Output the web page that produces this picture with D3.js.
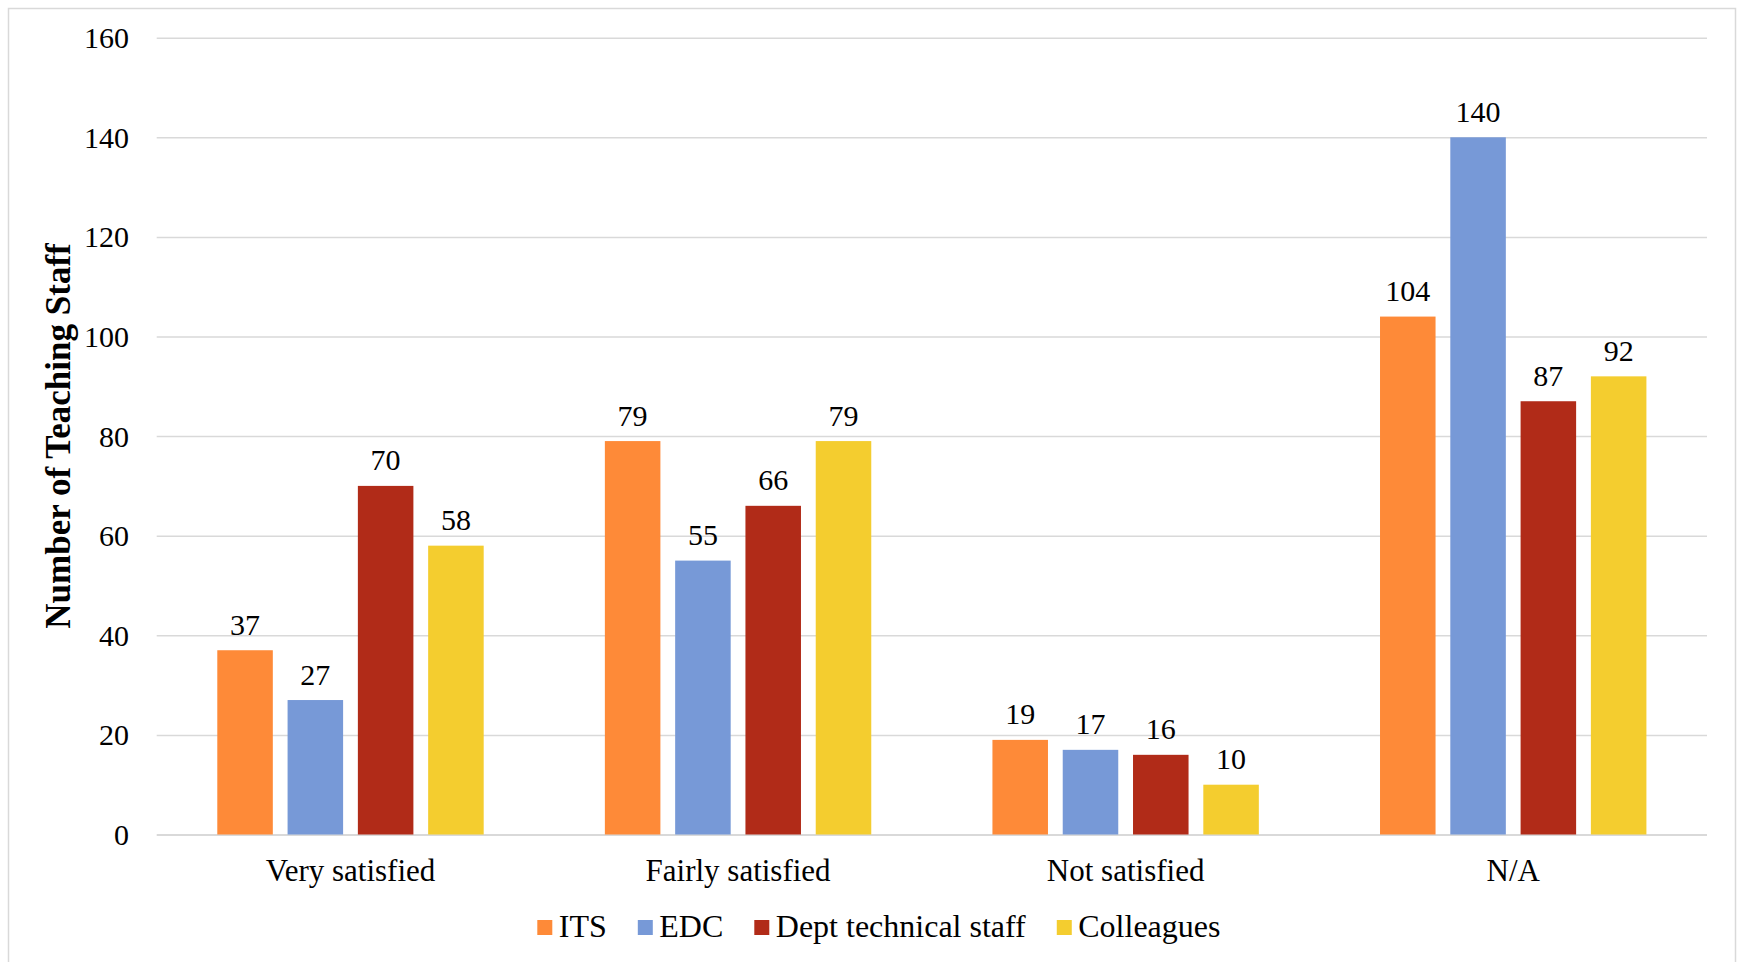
<!DOCTYPE html>
<html>
<head>
<meta charset="utf-8">
<script src="https://cdn.jsdelivr.net/npm/d3@7"></script>
<style>
  html, body { margin: 0; padding: 0; background: #fff; }
  svg { display: block; }
  text { font-family: "Liberation Serif", "DejaVu Serif", serif; fill: #000; }
</style>
</head>
<body>
<svg id="chart" width="1741" height="962"></svg>
<script>
// ---- data ----
const categories = ["Very satisfied", "Fairly satisfied", "Not satisfied", "N/A"];
const seriesNames = ["ITS", "EDC", "Dept technical staff", "Colleagues"];
const seriesColors = ["#fe8a38", "#7799d7", "#b12b18", "#f4cd2f"];
const itsValues = [37, 79, 19, 104];
const edcValues = [27, 55, 17, 140];
const deptValues = [70, 66, 16, 87];
const colleaguesValues = [58, 79, 10, 92];
const yTicks = [0, 20, 40, 60, 80, 100, 120, 140, 160];
const yTitle = "Number of Teaching Staff";

const seriesValues = [itsValues, edcValues, deptValues, colleaguesValues];

// ---- layout ----
const svg = d3.select("#chart");
const W = 1741, H = 962;
const plot = { left: 156.7, right: 1707, top: 37.7, bottom: 834.5 };

svg.append("rect").attr("x", 0).attr("y", 0).attr("width", W).attr("height", H).attr("fill", "#fff");
svg.append("rect")
  .attr("x", 8.5).attr("y", 8.5).attr("width", 1727).attr("height", 980)
  .attr("fill", "none").attr("stroke", "#d9d9d9").attr("stroke-width", 1.5);

const x0 = d3.scaleBand().domain(categories).range([plot.left, plot.right]).paddingInner(0).paddingOuter(0);
const x1 = d3.scaleBand().domain(seriesNames).range([0, x0.bandwidth()]).paddingInner(0.21).paddingOuter(0.862);
const y = d3.scaleLinear().domain([0, 160]).range([plot.bottom, plot.top]);

// gridlines
const yAxis = d3.axisLeft(y).tickValues(yTicks).tickSize(-(plot.right - plot.left)).tickPadding(27.7).tickFormat(d3.format("d"));
const gy = svg.append("g").attr("transform", `translate(${plot.left},0)`).call(yAxis);
gy.select(".domain").remove();
gy.selectAll(".tick line").attr("stroke", "#d9d9d9").attr("stroke-width", d => d === 0 ? 2 : 1.5);
gy.selectAll(".tick text")
  .attr("font-size", 30)
  .attr("font-family", "Liberation Serif, serif")
  .attr("fill", "#000")
  .attr("dy", "0.33em");

// bars
const groups = svg.append("g").selectAll("g")
  .data(categories).join("g")
  .attr("transform", d => `translate(${x0(d)},0)`);

groups.each(function(cat, ci) {
  const g = d3.select(this);
  seriesNames.forEach((s, si) => {
    const v = seriesValues[si][ci];
    g.append("rect")
      .attr("x", x1(s))
      .attr("y", y(v))
      .attr("width", x1.bandwidth())
      .attr("height", y(0) - y(v))
      .attr("fill", seriesColors[si]);
    g.append("text")
      .attr("x", x1(s) + x1.bandwidth() / 2)
      .attr("y", y(v) - 15.5)
      .attr("text-anchor", "middle")
      .attr("font-size", 30)
      .text(v);
  });
});

// x axis labels
const xAxis = d3.axisBottom(x0).tickSize(0).tickPadding(0);
const gx = svg.append("g").attr("transform", `translate(0,${plot.bottom})`).call(xAxis);
gx.select(".domain").remove();
gx.selectAll(".tick text")
  .attr("font-size", 31)
  .attr("font-family", "Liberation Serif, serif")
  .attr("fill", "#000")
  .attr("dy", null)
  .attr("y", 46);

// y title
svg.append("text")
  .attr("transform", "translate(70,436) rotate(-90)")
  .attr("text-anchor", "middle")
  .attr("font-size", 35)
  .attr("font-weight", "bold")
  .text(yTitle);

// legend
const legend = svg.append("g");
let lx = 537.3;
seriesNames.forEach((s, i) => {
  legend.append("rect")
    .attr("x", lx).attr("y", 920).attr("width", 15).attr("height", 15)
    .attr("fill", seriesColors[i]);
  const tx = lx + 21.5;
  const t = legend.append("text")
    .attr("x", tx).attr("y", 937)
    .attr("font-size", 32)
    .text(s);
  const w = t.node().getComputedTextLength();
  lx = tx + w + 31;
});
</script>
</body>
</html>
